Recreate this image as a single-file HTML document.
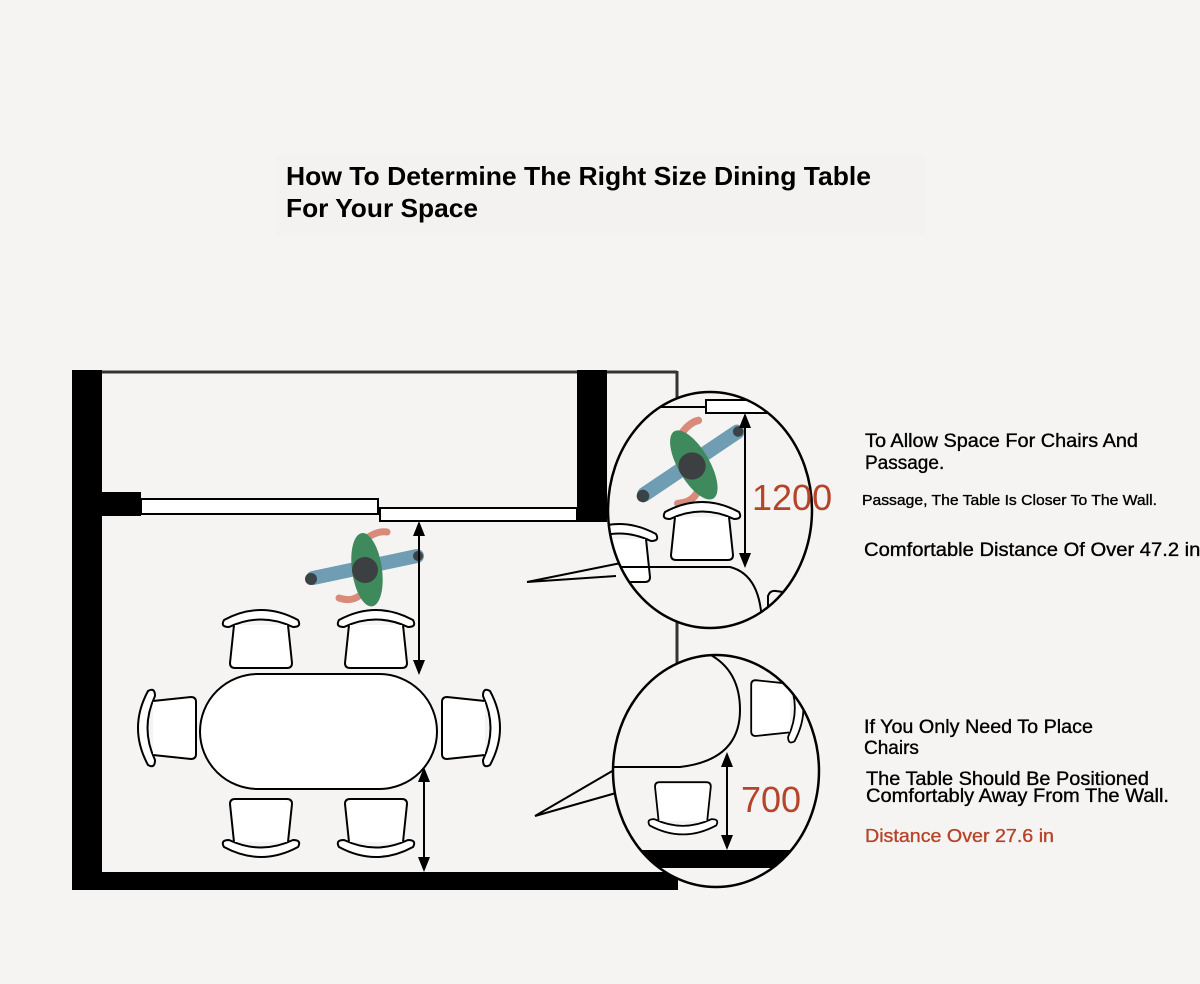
<!DOCTYPE html>
<html><head><style>
html,body{margin:0;padding:0;background:#f5f4f2;}
svg{display:block;}
text{font-family:"Liberation Sans",Arial,sans-serif;}
.t{stroke:#000;stroke-width:0.35;}
</style></head><body>
<svg width="1200" height="984" viewBox="0 0 1200 984" xmlns="http://www.w3.org/2000/svg">
<defs>
<g id="chair">
<path d="M2,14 Q39,-6 76,14 Q80,21 71,21 Q39,6 7,21 Q-2,21 2,14Z" fill="#fff" stroke="#000" stroke-width="2"/>
<path d="M12,19 L8,57 Q8,62 13,62 L65,62 Q70,62 70,57 L66,19" fill="#fff" stroke="#000" stroke-width="2"/>
</g>
<g id="person">
<path d="M-6,-26 Q10,-40 22,-38" stroke="#d98a7a" stroke-width="7" fill="none" stroke-linecap="round"/>
<path d="M-6,26 Q-14,32 -26,28" stroke="#d98a7a" stroke-width="7" fill="none" stroke-linecap="round"/>
<path d="M-52,8 L52,-14" stroke="#6f9db3" stroke-width="14" stroke-linecap="round"/>
<circle cx="-54" cy="9" r="6" fill="#3b4246"/>
<circle cx="53" cy="-14" r="5" fill="#3b4246"/>
<ellipse cx="2" cy="0" rx="15" ry="37" fill="#3f8a5c" transform="rotate(-8)"/>
<circle cx="0" cy="0" r="13" fill="#3d4043"/>
</g>
<clipPath id="c1"><ellipse cx="710" cy="510" rx="102" ry="118"/></clipPath>
<clipPath id="c2"><ellipse cx="716" cy="771" rx="103" ry="116"/></clipPath>
</defs>

<rect x="276" y="155" width="650" height="80" fill="#f3f2f0"/>
<text x="286" y="185" font-size="26" font-weight="bold" textLength="585" lengthAdjust="spacingAndGlyphs">How To Determine The Right Size Dining Table</text>
<text x="286" y="217" font-size="26" font-weight="bold" textLength="192" lengthAdjust="spacingAndGlyphs">For Your Space</text>

<!-- room -->
<line x1="102" y1="372" x2="677" y2="372" stroke="#333" stroke-width="3"/>
<line x1="677" y1="371" x2="677" y2="672" stroke="#333" stroke-width="3"/>
<rect x="72" y="370" width="30" height="520" fill="#000"/>
<rect x="72" y="872" width="606" height="18" fill="#000"/>
<rect x="577" y="370" width="30" height="152" fill="#000"/>
<rect x="102" y="492" width="39" height="24" fill="#000"/>
<rect x="141" y="499" width="237" height="15" fill="#fff" stroke="#000" stroke-width="2"/>
<rect x="380" y="508" width="197" height="13" fill="#fff" stroke="#000" stroke-width="2"/>

<use href="#person" transform="translate(365,570)"/>

<use href="#chair" transform="translate(222,606)"/>
<use href="#chair" transform="translate(337,606)"/>
<use href="#chair" transform="translate(300,861) rotate(180)"/>
<use href="#chair" transform="translate(415,861) rotate(180)"/>
<use href="#chair" transform="translate(134,767) rotate(-90)"/>
<use href="#chair" transform="translate(504,689) rotate(90)"/>
<rect x="200" y="674" width="237" height="115" rx="58" fill="#fff" stroke="#000" stroke-width="2"/>

<line x1="419" y1="530" x2="419" y2="666" stroke="#000" stroke-width="2"/>
<path d="M419,521 L413,536 L425,536Z M419,675 L413,660 L425,660Z" fill="#000"/>
<line x1="424" y1="776" x2="424" y2="864" stroke="#000" stroke-width="2"/>
<path d="M424,767 L418,782 L430,782Z M424,872 L418,857 L430,857Z" fill="#000"/>

<!-- callout 1 -->
<path d="M621,563 L527,582 L616,576" fill="#f5f4f2" stroke="#000" stroke-width="2"/>
<ellipse cx="710" cy="510" rx="102" ry="118" fill="#f5f4f2"/>
<g clip-path="url(#c1)">
<line x1="600" y1="407" x2="706" y2="407" stroke="#000" stroke-width="2"/>
<rect x="706" y="400" width="110" height="13" fill="#fff" stroke="#000" stroke-width="2"/>
<use href="#person" transform="translate(692,466) rotate(-22) scale(1.05)"/>
<use href="#chair" transform="translate(663,498)"/>
<use href="#chair" transform="translate(580,520)"/>
<path d="M600,567 L730,567 Q762,575 762,628" fill="none" stroke="#000" stroke-width="2"/>
<path d="M768,628 L768,596 Q770,590 776,591 L810,596" fill="none" stroke="#000" stroke-width="2"/>
<line x1="745" y1="422" x2="745" y2="560" stroke="#000" stroke-width="2"/>
<path d="M745,413 L739,428 L751,428Z M745,568 L739,553 L751,553Z" fill="#000"/>
</g>
<ellipse cx="710" cy="510" rx="102" ry="118" fill="none" stroke="#000" stroke-width="2.5"/>
<text x="752" y="510" font-size="36" fill="#b5452a">1200</text>

<!-- callout 2 -->
<path d="M614,770 L535,816 L616,793" fill="#f5f4f2" stroke="#000" stroke-width="2"/>
<ellipse cx="716" cy="771" rx="103" ry="116" fill="#f5f4f2"/>
<g clip-path="url(#c2)">
<path d="M600,767 L680,767 Q740,760 740,710 Q740,665 700,650" fill="none" stroke="#000" stroke-width="2"/>
<use href="#chair" transform="translate(718,838) rotate(180) scale(0.9)"/>
<use href="#chair" transform="translate(807,673) rotate(90) scale(0.9)"/>
<rect x="600" y="850" width="240" height="18" fill="#000"/>
<line x1="727" y1="760" x2="727" y2="842" stroke="#000" stroke-width="2"/>
<path d="M727,752 L721,767 L733,767Z M727,850 L721,835 L733,835Z" fill="#000"/>
</g>
<ellipse cx="716" cy="771" rx="103" ry="116" fill="none" stroke="#000" stroke-width="2.5"/>
<text x="741" y="812" font-size="36" fill="#b5452a">700</text>

<!-- right texts -->
<text class="t" x="865" y="447" font-size="19" textLength="273" lengthAdjust="spacingAndGlyphs">To Allow Space For Chairs And</text>
<text class="t" x="865" y="469" font-size="19">Passage.</text>
<text class="t" x="862" y="505" font-size="15" textLength="295" lengthAdjust="spacingAndGlyphs">Passage, The Table Is Closer To The Wall.</text>
<text class="t" x="864" y="556" font-size="19" textLength="342" lengthAdjust="spacingAndGlyphs">Comfortable Distance Of Over 47.2 in.</text>
<text class="t" x="864" y="733" font-size="19" textLength="229" lengthAdjust="spacingAndGlyphs">If You Only Need To Place</text>
<text class="t" x="864" y="754" font-size="19">Chairs</text>
<text class="t" x="866" y="785" font-size="19" textLength="283" lengthAdjust="spacingAndGlyphs">The Table Should Be Positioned</text>
<text class="t" x="866" y="802" font-size="19" textLength="303" lengthAdjust="spacingAndGlyphs">Comfortably Away From The Wall.</text>
<text x="865" y="842" font-size="18" fill="#b5452a" stroke="#b5452a" stroke-width="0.35" textLength="189" lengthAdjust="spacingAndGlyphs">Distance Over 27.6 in</text>
</svg>
</body></html>
